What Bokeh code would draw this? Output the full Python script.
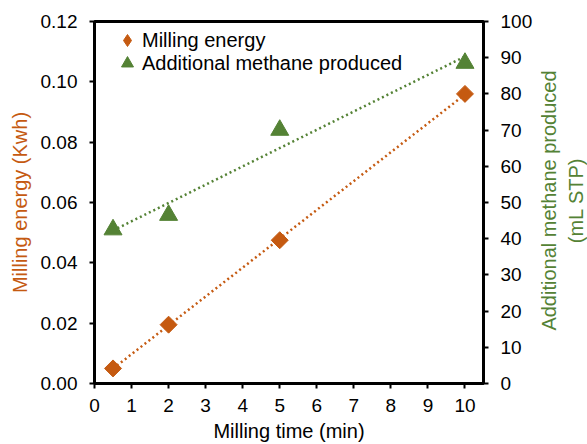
import math
import numpy as np
from bokeh.plotting import figure
from bokeh.layouts import row
from bokeh.models import Range1d, LinearAxis, Legend, LegendItem, FixedTicker, NumeralTickFormatter, Label
from bokeh.embed import file_html
from bokeh.resources import INLINE

milling_time = [0.5, 2, 5, 10]
milling_energy = [0.005, 0.0195, 0.0475, 0.096]
methane = [42.5, 46.5, 70.0, 88.5]
x_ticks = list(range(0, 11))
y_ticks = [0.0, 0.02, 0.04, 0.06, 0.08, 0.10, 0.12]
y2_ticks = list(range(0, 101, 10))

ORANGE = "#C55A11"
GREEN = "#548235"
FONT = "Liberation Sans"
FS_TICK = "19px"
FS_LABEL = "20px"

p = figure(width=540, height=444, output_backend="svg", toolbar_location=None,
           x_range=Range1d(0, 10.5), y_range=Range1d(0, 0.12),
           min_border_left=94, min_border_right=57, min_border_top=21, min_border_bottom=60)
p.extra_y_ranges = {"ch4": Range1d(0, 100)}
p.grid.visible = False
p.outline_line_color = "black"
p.outline_line_width = 3
p.background_fill_color = "white"
p.border_fill_color = "white"

# linear trendlines fitted to the data
xs = np.array([min(milling_time), max(milling_time)])
c1 = np.polyfit(milling_time, milling_energy, 1)
c2 = np.polyfit(milling_time, methane, 1)
p.line(xs, np.polyval(c1, xs), line_color=ORANGE, line_width=2.5, line_dash="2 3")
p.line(xs, np.polyval(c2, xs), line_color=GREEN, line_width=2.5, line_dash="2 3", y_range_name="ch4")

r1 = p.scatter(milling_time, milling_energy, marker="square", angle=math.pi / 4, size=12,
               fill_color=ORANGE, line_color=ORANGE)
r2 = p.scatter(milling_time, methane, marker="triangle", size=18,
               fill_color=GREEN, line_color=GREEN, y_range_name="ch4")
# hidden twin of the energy series, used only as its legend key (legend glyphs are drawn unrotated)
k1 = p.scatter(milling_time, milling_energy, marker="diamond", size=12,
               fill_color=ORANGE, line_color=ORANGE, visible=False)

def style(ax):
    ax.axis_line_width = 3
    ax.axis_line_color = "black"
    ax.major_tick_in = 0
    ax.major_tick_out = 5
    ax.major_tick_line_width = 2
    ax.minor_tick_line_color = None
    ax.major_label_text_font = FONT
    ax.major_label_text_font_size = FS_TICK
    ax.major_label_text_color = "black"
    ax.axis_label_text_font = FONT
    ax.axis_label_text_font_size = FS_LABEL
    ax.axis_label_text_font_style = "normal"
    ax.axis_label_text_color = "black"

xa = p.xaxis[0]
style(xa)
xa.ticker = FixedTicker(ticks=x_ticks)
xa.axis_label = "Milling time (min)"
xa.major_label_standoff = 10
xa.axis_label_standoff = 5

ya = p.yaxis[0]
style(ya)
ya.ticker = FixedTicker(ticks=y_ticks)
ya.formatter = NumeralTickFormatter(format="0.00")
ya.axis_label = "Milling energy (Kwh)"
ya.axis_label_text_color = ORANGE
ya.major_label_standoff = 12
ya.axis_label_standoff = 7

ra = LinearAxis(y_range_name="ch4", ticker=FixedTicker(ticks=y2_ticks))
style(ra)
ra.major_label_standoff = 12
p.add_layout(ra, "right")

def make_legend(label, renderer, top_offset):
    lg = Legend(items=[LegendItem(label=label, renderers=[renderer])], location=(18, top_offset))
    lg.background_fill_alpha = 0
    lg.border_line_color = None
    lg.label_text_font = FONT
    lg.label_text_font_size = FS_LABEL
    lg.label_text_color = "black"
    lg.label_height = 24
    lg.glyph_height = 30
    lg.glyph_width = 30
    lg.spacing = 0
    lg.padding = 0
    lg.margin = 0
    lg.label_standoff = 0
    return lg

p.add_layout(make_legend("Milling energy", k1, 328))
p.add_layout(make_legend("Additional methane produced", r2, 305))

# narrow panel holding the right-hand axis title, reading bottom-to-top
t = figure(width=47, height=444, output_backend="svg", toolbar_location=None,
           x_range=Range1d(0, 1), y_range=Range1d(0, 1),
           min_border_left=0, min_border_right=0, min_border_top=0, min_border_bottom=0)
t.xaxis.visible = False
t.yaxis.visible = False
t.grid.visible = False
t.outline_line_color = None
t.background_fill_color = "white"
t.border_fill_color = "white"
t.add_layout(Label(x=22, y=183, x_units="screen", y_units="screen",
                   text="Additional methane produced\n(mL STP)", angle=math.pi / 2,
                   text_align="center", text_baseline="middle",
                   text_font=FONT, text_font_size=FS_LABEL, text_color=GREEN))

layout = row(p, t, spacing=0)
open("out.html", "w").write(file_html(layout, INLINE))
